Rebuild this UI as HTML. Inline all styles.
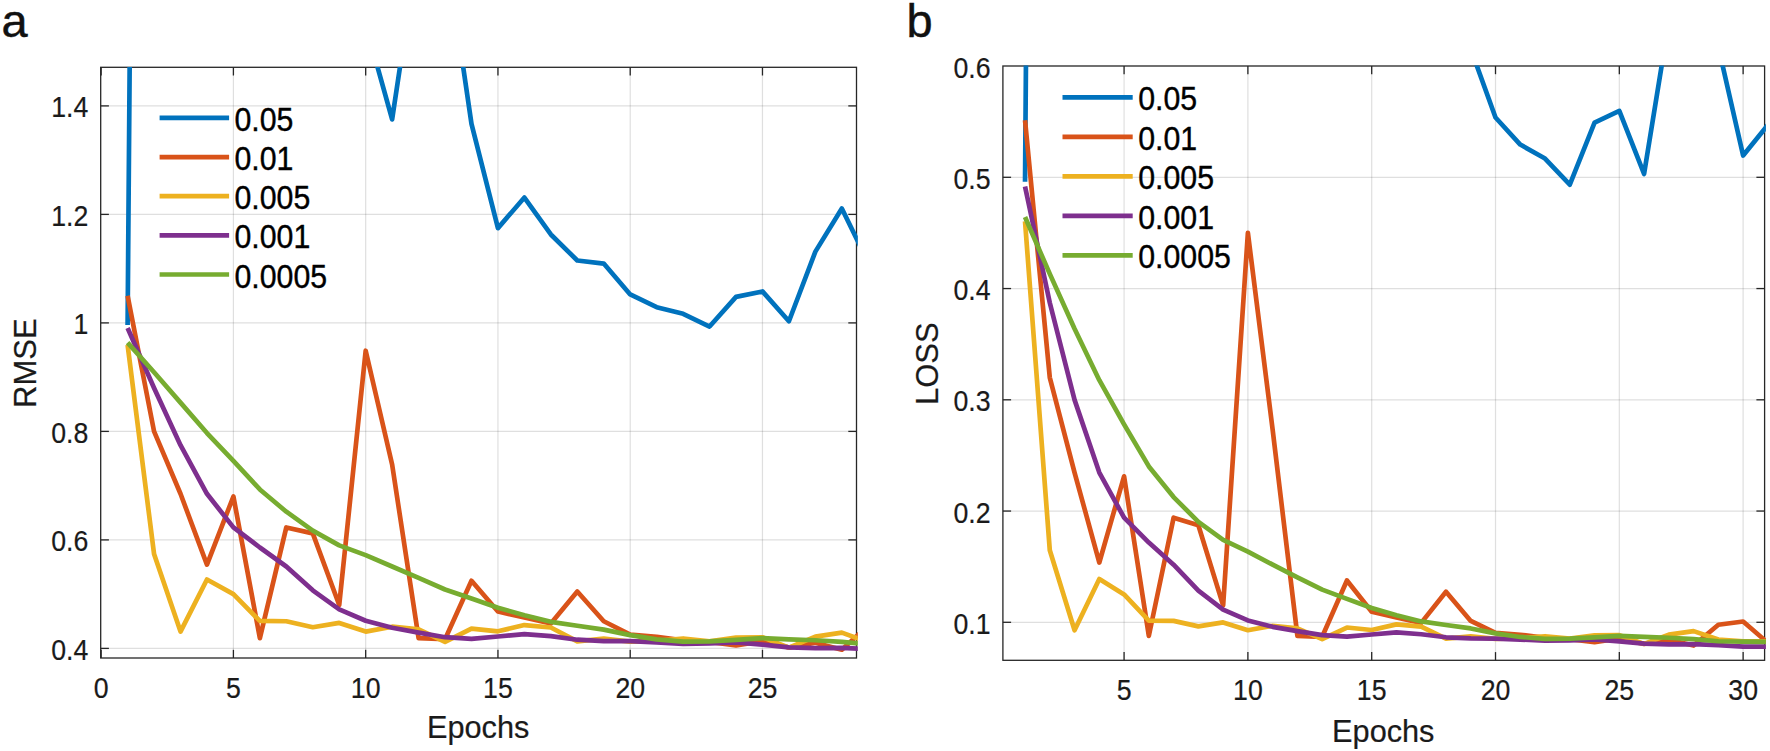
<!DOCTYPE html>
<html><head><meta charset="utf-8"><title>Figure</title>
<style>
html,body{margin:0;padding:0;background:#fff;}
body{width:1770px;height:751px;overflow:hidden;}
svg{display:block;}
svg text{font-family:"Liberation Sans",Arial,sans-serif;fill:#1a1a1a;stroke:#1a1a1a;stroke-width:0.2px;}
</style></head>
<body>
<svg width="1770" height="751" viewBox="0 0 1770 751">
<rect width="1770" height="751" fill="#ffffff"/>
<text x="1.5" y="36.6" font-size="47" style="fill:#111;stroke:#111;stroke-width:0.45px">a</text>
<text x="906.5" y="36.6" font-size="47" style="fill:#111;stroke:#111;stroke-width:0.45px">b</text>
<clipPath id="ca"><rect x="100.10000000000001" y="66.89999999999999" width="757.6999999999999" height="591.5"/></clipPath>
<line x1="233.41" y1="67.3" x2="233.41" y2="658.0" stroke="#262626" stroke-opacity="0.15" stroke-width="1.2"/>
<line x1="365.68" y1="67.3" x2="365.68" y2="658.0" stroke="#262626" stroke-opacity="0.15" stroke-width="1.2"/>
<line x1="497.95" y1="67.3" x2="497.95" y2="658.0" stroke="#262626" stroke-opacity="0.15" stroke-width="1.2"/>
<line x1="630.21" y1="67.3" x2="630.21" y2="658.0" stroke="#262626" stroke-opacity="0.15" stroke-width="1.2"/>
<line x1="762.47" y1="67.3" x2="762.47" y2="658.0" stroke="#262626" stroke-opacity="0.15" stroke-width="1.2"/>
<line x1="100.7" y1="648.40" x2="856.5" y2="648.40" stroke="#262626" stroke-opacity="0.15" stroke-width="1.2"/>
<line x1="100.7" y1="539.90" x2="856.5" y2="539.90" stroke="#262626" stroke-opacity="0.15" stroke-width="1.2"/>
<line x1="100.7" y1="431.40" x2="856.5" y2="431.40" stroke="#262626" stroke-opacity="0.15" stroke-width="1.2"/>
<line x1="100.7" y1="322.90" x2="856.5" y2="322.90" stroke="#262626" stroke-opacity="0.15" stroke-width="1.2"/>
<line x1="100.7" y1="214.40" x2="856.5" y2="214.40" stroke="#262626" stroke-opacity="0.15" stroke-width="1.2"/>
<line x1="100.7" y1="105.90" x2="856.5" y2="105.90" stroke="#262626" stroke-opacity="0.15" stroke-width="1.2"/>
<rect x="100.7" y="67.3" width="755.8" height="590.7" fill="none" stroke="#262626" stroke-width="1.3"/>
<line x1="101.15" y1="658.0" x2="101.15" y2="649.8" stroke="#262626" stroke-width="1.3"/>
<line x1="101.15" y1="67.3" x2="101.15" y2="75.5" stroke="#262626" stroke-width="1.3"/>
<text transform="translate(101.15,698.1) scale(1,1.09)" text-anchor="middle" font-size="26.7">0</text>
<line x1="233.41" y1="658.0" x2="233.41" y2="649.8" stroke="#262626" stroke-width="1.3"/>
<line x1="233.41" y1="67.3" x2="233.41" y2="75.5" stroke="#262626" stroke-width="1.3"/>
<text transform="translate(233.41,698.1) scale(1,1.09)" text-anchor="middle" font-size="26.7">5</text>
<line x1="365.68" y1="658.0" x2="365.68" y2="649.8" stroke="#262626" stroke-width="1.3"/>
<line x1="365.68" y1="67.3" x2="365.68" y2="75.5" stroke="#262626" stroke-width="1.3"/>
<text transform="translate(365.68,698.1) scale(1,1.09)" text-anchor="middle" font-size="26.7">10</text>
<line x1="497.95" y1="658.0" x2="497.95" y2="649.8" stroke="#262626" stroke-width="1.3"/>
<line x1="497.95" y1="67.3" x2="497.95" y2="75.5" stroke="#262626" stroke-width="1.3"/>
<text transform="translate(497.95,698.1) scale(1,1.09)" text-anchor="middle" font-size="26.7">15</text>
<line x1="630.21" y1="658.0" x2="630.21" y2="649.8" stroke="#262626" stroke-width="1.3"/>
<line x1="630.21" y1="67.3" x2="630.21" y2="75.5" stroke="#262626" stroke-width="1.3"/>
<text transform="translate(630.21,698.1) scale(1,1.09)" text-anchor="middle" font-size="26.7">20</text>
<line x1="762.47" y1="658.0" x2="762.47" y2="649.8" stroke="#262626" stroke-width="1.3"/>
<line x1="762.47" y1="67.3" x2="762.47" y2="75.5" stroke="#262626" stroke-width="1.3"/>
<text transform="translate(762.47,698.1) scale(1,1.09)" text-anchor="middle" font-size="26.7">25</text>
<line x1="100.7" y1="648.40" x2="108.9" y2="648.40" stroke="#262626" stroke-width="1.3"/>
<line x1="856.5" y1="648.40" x2="848.3" y2="648.40" stroke="#262626" stroke-width="1.3"/>
<text transform="translate(88.3,659.90) scale(1,1.09)" text-anchor="end" font-size="26.7">0.4</text>
<line x1="100.7" y1="539.90" x2="108.9" y2="539.90" stroke="#262626" stroke-width="1.3"/>
<line x1="856.5" y1="539.90" x2="848.3" y2="539.90" stroke="#262626" stroke-width="1.3"/>
<text transform="translate(88.3,551.40) scale(1,1.09)" text-anchor="end" font-size="26.7">0.6</text>
<line x1="100.7" y1="431.40" x2="108.9" y2="431.40" stroke="#262626" stroke-width="1.3"/>
<line x1="856.5" y1="431.40" x2="848.3" y2="431.40" stroke="#262626" stroke-width="1.3"/>
<text transform="translate(88.3,442.90) scale(1,1.09)" text-anchor="end" font-size="26.7">0.8</text>
<line x1="100.7" y1="322.90" x2="108.9" y2="322.90" stroke="#262626" stroke-width="1.3"/>
<line x1="856.5" y1="322.90" x2="848.3" y2="322.90" stroke="#262626" stroke-width="1.3"/>
<text transform="translate(88.3,334.40) scale(1,1.09)" text-anchor="end" font-size="26.7">1</text>
<line x1="100.7" y1="214.40" x2="108.9" y2="214.40" stroke="#262626" stroke-width="1.3"/>
<line x1="856.5" y1="214.40" x2="848.3" y2="214.40" stroke="#262626" stroke-width="1.3"/>
<text transform="translate(88.3,225.90) scale(1,1.09)" text-anchor="end" font-size="26.7">1.2</text>
<line x1="100.7" y1="105.90" x2="108.9" y2="105.90" stroke="#262626" stroke-width="1.3"/>
<line x1="856.5" y1="105.90" x2="848.3" y2="105.90" stroke="#262626" stroke-width="1.3"/>
<text transform="translate(88.3,117.40) scale(1,1.09)" text-anchor="end" font-size="26.7">1.4</text>
<g clip-path="url(#ca)" fill="none" stroke-width="4.7" stroke-linejoin="round" stroke-linecap="butt">
<polyline stroke="#0072BD" points="127.60,325.07 154.06,-3000.00 180.51,-1847.10 206.96,-1304.60 233.41,-762.10 259.87,-762.10 286.32,-762.10 312.77,-762.10 339.23,-490.85 365.68,24.52 392.13,119.46 418.59,-56.85 445.04,-56.85 471.49,123.80 497.95,228.13 524.40,197.58 550.85,234.47 577.30,260.51 603.76,263.55 630.21,294.47 656.66,307.17 683.12,313.84 709.57,326.53 736.02,296.86 762.47,291.43 788.93,321.27 815.38,251.62 841.83,208.43 868.29,262.68 894.74,312.38 921.19,297.89"/>
<polyline stroke="#D95319" points="127.60,295.77 154.06,431.40 180.51,493.79 206.96,564.58 233.41,496.50 259.87,638.09 286.32,527.42 312.77,533.39 339.23,605.00 365.68,350.73 392.13,464.49 418.59,638.09 445.04,639.18 471.49,580.80 497.95,611.51 524.40,617.48 550.85,623.44 577.30,591.44 603.76,621.27 630.21,634.62 656.66,636.74 683.12,640.26 709.57,641.89 736.02,645.52 762.47,641.08 788.93,647.59 815.38,642.65 841.83,649.65 868.29,625.45 894.74,621.93 921.19,646.39"/>
<polyline stroke="#EDB120" points="127.60,344.87 154.06,554.00 180.51,631.58 206.96,579.50 233.41,594.15 259.87,620.95 286.32,621.27 312.77,627.24 339.23,622.90 365.68,631.58 392.13,626.70 418.59,629.41 445.04,641.89 471.49,628.54 497.95,631.31 524.40,625.07 550.85,627.51 577.30,641.35 603.76,638.63 630.21,641.62 656.66,640.80 683.12,638.47 709.57,641.35 736.02,637.55 762.47,637.28 788.93,647.59 815.38,636.57 841.83,632.61 868.29,642.38 894.74,644.39 921.19,644.39"/>
<polyline stroke="#7E2F8E" points="127.60,328.05 154.06,388.00 180.51,445.23 206.96,493.79 233.41,527.42 259.87,547.50 286.32,566.48 312.77,590.35 339.23,609.34 365.68,620.73 392.13,627.78 418.59,632.67 445.04,637.22 471.49,638.91 497.95,636.47 524.40,634.08 550.85,636.19 577.30,639.72 603.76,641.08 630.21,641.18 656.66,642.43 683.12,643.84 709.57,643.35 736.02,642.32 762.47,644.60 788.93,647.31 815.38,648.13 841.83,647.86 868.29,649.21 894.74,650.84 921.19,650.84"/>
<polyline stroke="#77AC30" points="127.60,342.65 154.06,372.27 180.51,402.65 206.96,433.03 233.41,460.97 259.87,489.45 286.32,511.69 312.77,530.68 339.23,545.33 365.68,555.09 392.13,566.48 418.59,577.88 445.04,589.48 471.49,598.49 497.95,607.71 524.40,615.31 550.85,621.82 577.30,625.78 603.76,629.58 630.21,635.16 656.66,639.34 683.12,641.67 709.57,641.35 736.02,639.94 762.47,638.09 788.93,639.29 815.38,640.26 841.83,641.89 868.29,644.39 894.74,644.77 921.19,645.31"/>
</g>
<text x="478.2" y="737.9" text-anchor="middle" font-size="30.7">Epochs</text>
<text transform="translate(36.3,363.15) rotate(-90)" text-anchor="middle" font-size="31">RMSE</text>
<line x1="159.6" y1="117.90" x2="229.1" y2="117.90" stroke="#0072BD" stroke-width="4.7"/>
<text transform="translate(234.5,131.00) scale(1,1.11)" font-size="30.3" style="fill:#000;stroke:#000;stroke-width:0.35px">0.05</text>
<line x1="159.6" y1="157.05" x2="229.1" y2="157.05" stroke="#D95319" stroke-width="4.7"/>
<text transform="translate(234.5,170.15) scale(1,1.11)" font-size="30.3" style="fill:#000;stroke:#000;stroke-width:0.35px">0.01</text>
<line x1="159.6" y1="196.20" x2="229.1" y2="196.20" stroke="#EDB120" stroke-width="4.7"/>
<text transform="translate(234.5,209.30) scale(1,1.11)" font-size="30.3" style="fill:#000;stroke:#000;stroke-width:0.35px">0.005</text>
<line x1="159.6" y1="235.35" x2="229.1" y2="235.35" stroke="#7E2F8E" stroke-width="4.7"/>
<text transform="translate(234.5,248.45) scale(1,1.11)" font-size="30.3" style="fill:#000;stroke:#000;stroke-width:0.35px">0.001</text>
<line x1="159.6" y1="274.50" x2="229.1" y2="274.50" stroke="#77AC30" stroke-width="4.7"/>
<text transform="translate(234.5,287.60) scale(1,1.11)" font-size="30.3" style="fill:#000;stroke:#000;stroke-width:0.35px">0.0005</text>
<clipPath id="cb"><rect x="1002.3" y="65.6" width="763.5999999999999" height="595.0999999999999"/></clipPath>
<line x1="1124.08" y1="66.0" x2="1124.08" y2="660.3" stroke="#262626" stroke-opacity="0.15" stroke-width="1.2"/>
<line x1="1247.89" y1="66.0" x2="1247.89" y2="660.3" stroke="#262626" stroke-opacity="0.15" stroke-width="1.2"/>
<line x1="1371.70" y1="66.0" x2="1371.70" y2="660.3" stroke="#262626" stroke-opacity="0.15" stroke-width="1.2"/>
<line x1="1495.51" y1="66.0" x2="1495.51" y2="660.3" stroke="#262626" stroke-opacity="0.15" stroke-width="1.2"/>
<line x1="1619.32" y1="66.0" x2="1619.32" y2="660.3" stroke="#262626" stroke-opacity="0.15" stroke-width="1.2"/>
<line x1="1743.13" y1="66.0" x2="1743.13" y2="660.3" stroke="#262626" stroke-opacity="0.15" stroke-width="1.2"/>
<line x1="1002.9" y1="622.30" x2="1764.6" y2="622.30" stroke="#262626" stroke-opacity="0.15" stroke-width="1.2"/>
<line x1="1002.9" y1="511.05" x2="1764.6" y2="511.05" stroke="#262626" stroke-opacity="0.15" stroke-width="1.2"/>
<line x1="1002.9" y1="399.80" x2="1764.6" y2="399.80" stroke="#262626" stroke-opacity="0.15" stroke-width="1.2"/>
<line x1="1002.9" y1="288.55" x2="1764.6" y2="288.55" stroke="#262626" stroke-opacity="0.15" stroke-width="1.2"/>
<line x1="1002.9" y1="177.30" x2="1764.6" y2="177.30" stroke="#262626" stroke-opacity="0.15" stroke-width="1.2"/>
<rect x="1002.9" y="66.0" width="761.6999999999999" height="594.3" fill="none" stroke="#262626" stroke-width="1.3"/>
<line x1="1124.08" y1="660.3" x2="1124.08" y2="652.0999999999999" stroke="#262626" stroke-width="1.3"/>
<line x1="1124.08" y1="66.0" x2="1124.08" y2="74.2" stroke="#262626" stroke-width="1.3"/>
<text transform="translate(1124.08,700.4) scale(1,1.09)" text-anchor="middle" font-size="26.7">5</text>
<line x1="1247.89" y1="660.3" x2="1247.89" y2="652.0999999999999" stroke="#262626" stroke-width="1.3"/>
<line x1="1247.89" y1="66.0" x2="1247.89" y2="74.2" stroke="#262626" stroke-width="1.3"/>
<text transform="translate(1247.89,700.4) scale(1,1.09)" text-anchor="middle" font-size="26.7">10</text>
<line x1="1371.70" y1="660.3" x2="1371.70" y2="652.0999999999999" stroke="#262626" stroke-width="1.3"/>
<line x1="1371.70" y1="66.0" x2="1371.70" y2="74.2" stroke="#262626" stroke-width="1.3"/>
<text transform="translate(1371.70,700.4) scale(1,1.09)" text-anchor="middle" font-size="26.7">15</text>
<line x1="1495.51" y1="660.3" x2="1495.51" y2="652.0999999999999" stroke="#262626" stroke-width="1.3"/>
<line x1="1495.51" y1="66.0" x2="1495.51" y2="74.2" stroke="#262626" stroke-width="1.3"/>
<text transform="translate(1495.51,700.4) scale(1,1.09)" text-anchor="middle" font-size="26.7">20</text>
<line x1="1619.32" y1="660.3" x2="1619.32" y2="652.0999999999999" stroke="#262626" stroke-width="1.3"/>
<line x1="1619.32" y1="66.0" x2="1619.32" y2="74.2" stroke="#262626" stroke-width="1.3"/>
<text transform="translate(1619.32,700.4) scale(1,1.09)" text-anchor="middle" font-size="26.7">25</text>
<line x1="1743.13" y1="660.3" x2="1743.13" y2="652.0999999999999" stroke="#262626" stroke-width="1.3"/>
<line x1="1743.13" y1="66.0" x2="1743.13" y2="74.2" stroke="#262626" stroke-width="1.3"/>
<text transform="translate(1743.13,700.4) scale(1,1.09)" text-anchor="middle" font-size="26.7">30</text>
<line x1="1002.9" y1="622.30" x2="1011.1" y2="622.30" stroke="#262626" stroke-width="1.3"/>
<line x1="1764.6" y1="622.30" x2="1756.3999999999999" y2="622.30" stroke="#262626" stroke-width="1.3"/>
<text transform="translate(990.5,633.80) scale(1,1.09)" text-anchor="end" font-size="26.7">0.1</text>
<line x1="1002.9" y1="511.05" x2="1011.1" y2="511.05" stroke="#262626" stroke-width="1.3"/>
<line x1="1764.6" y1="511.05" x2="1756.3999999999999" y2="511.05" stroke="#262626" stroke-width="1.3"/>
<text transform="translate(990.5,522.55) scale(1,1.09)" text-anchor="end" font-size="26.7">0.2</text>
<line x1="1002.9" y1="399.80" x2="1011.1" y2="399.80" stroke="#262626" stroke-width="1.3"/>
<line x1="1764.6" y1="399.80" x2="1756.3999999999999" y2="399.80" stroke="#262626" stroke-width="1.3"/>
<text transform="translate(990.5,411.30) scale(1,1.09)" text-anchor="end" font-size="26.7">0.3</text>
<line x1="1002.9" y1="288.55" x2="1011.1" y2="288.55" stroke="#262626" stroke-width="1.3"/>
<line x1="1764.6" y1="288.55" x2="1756.3999999999999" y2="288.55" stroke="#262626" stroke-width="1.3"/>
<text transform="translate(990.5,300.05) scale(1,1.09)" text-anchor="end" font-size="26.7">0.4</text>
<line x1="1002.9" y1="177.30" x2="1011.1" y2="177.30" stroke="#262626" stroke-width="1.3"/>
<line x1="1764.6" y1="177.30" x2="1756.3999999999999" y2="177.30" stroke="#262626" stroke-width="1.3"/>
<text transform="translate(990.5,188.80) scale(1,1.09)" text-anchor="end" font-size="26.7">0.5</text>
<text transform="translate(990.5,77.55) scale(1,1.09)" text-anchor="end" font-size="26.7">0.6</text>
<g clip-path="url(#cb)" fill="none" stroke-width="4.7" stroke-linejoin="round" stroke-linecap="butt">
<polyline stroke="#0072BD" points="1025.03,181.74 1049.79,-3000.00 1074.56,-3000.00 1099.32,-3000.00 1124.08,-3000.00 1148.84,-3000.00 1173.60,-3000.00 1198.37,-3000.00 1223.13,-2743.01 1247.89,-602.84 1272.65,-318.11 1297.41,-874.01 1322.18,-874.01 1346.94,-305.91 1371.70,-34.03 1396.46,-109.37 1421.22,-18.82 1445.99,42.01 1470.75,48.94 1495.51,117.48 1520.27,144.57 1545.03,158.57 1569.80,184.73 1594.56,122.62 1619.32,110.90 1644.08,173.96 1668.84,21.51 1693.61,-82.20 1718.37,46.96 1743.13,155.51 1767.89,124.83"/>
<polyline stroke="#D95319" points="1025.03,120.28 1049.79,377.55 1074.56,472.54 1099.32,562.52 1124.08,476.34 1148.84,635.89 1173.60,517.65 1198.37,525.21 1223.13,605.39 1247.89,232.91 1272.65,429.77 1297.41,635.89 1322.18,636.82 1346.94,580.47 1371.70,611.72 1396.46,617.38 1421.22,622.90 1445.99,591.69 1470.75,620.91 1495.51,632.89 1520.27,634.73 1545.03,637.75 1569.80,639.13 1594.56,642.18 1619.32,638.44 1644.08,643.88 1668.84,639.77 1693.61,645.57 1718.37,624.73 1743.13,621.51 1767.89,642.90"/>
<polyline stroke="#EDB120" points="1025.03,221.44 1049.79,550.28 1074.56,630.22 1099.32,579.06 1124.08,594.49 1148.84,620.61 1173.60,620.91 1198.37,626.35 1223.13,622.41 1247.89,630.22 1272.65,625.86 1297.41,628.29 1322.18,639.13 1346.94,627.52 1371.70,629.98 1396.46,624.39 1421.22,626.59 1445.99,638.67 1470.75,636.36 1495.51,638.90 1520.27,638.21 1545.03,636.22 1569.80,638.67 1594.56,635.43 1619.32,635.19 1644.08,643.88 1668.84,634.58 1693.61,631.13 1718.37,639.54 1743.13,641.23 1767.89,641.23"/>
<polyline stroke="#7E2F8E" points="1025.03,186.42 1049.79,302.79 1074.56,399.88 1099.32,472.54 1124.08,517.65 1148.84,542.54 1173.60,564.67 1198.37,590.57 1223.13,609.63 1247.89,620.41 1272.65,626.84 1297.41,631.18 1322.18,635.15 1346.94,636.59 1371.70,634.49 1396.46,632.41 1421.22,634.26 1445.99,637.29 1470.75,638.44 1495.51,638.53 1520.27,639.59 1545.03,640.77 1569.80,640.36 1594.56,639.50 1619.32,641.41 1644.08,643.66 1668.84,644.33 1693.61,644.10 1718.37,645.22 1743.13,646.54 1767.89,646.54"/>
<polyline stroke="#77AC30" points="1025.03,217.06 1049.79,273.93 1074.56,328.82 1099.32,380.21 1124.08,424.40 1148.84,466.41 1173.60,497.09 1198.37,521.79 1223.13,539.92 1247.89,551.55 1272.65,564.67 1297.41,577.30 1322.18,589.66 1346.94,598.90 1371.70,608.05 1396.46,615.34 1421.22,621.41 1445.99,625.03 1470.75,628.44 1495.51,633.36 1520.27,636.96 1545.03,638.95 1569.80,638.67 1594.56,637.47 1619.32,635.89 1644.08,636.92 1668.84,637.75 1693.61,639.13 1718.37,641.23 1743.13,641.54 1767.89,642.00"/>
</g>
<text x="1383.3" y="741.5999999999999" text-anchor="middle" font-size="30.7">Epochs</text>
<text transform="translate(938.4,363.65) rotate(-90)" text-anchor="middle" font-size="31">LOSS</text>
<line x1="1062.5" y1="97.30" x2="1132.7" y2="97.30" stroke="#0072BD" stroke-width="4.7"/>
<text transform="translate(1138.2,110.40) scale(1,1.11)" font-size="30.3" style="fill:#000;stroke:#000;stroke-width:0.35px">0.05</text>
<line x1="1062.5" y1="136.80" x2="1132.7" y2="136.80" stroke="#D95319" stroke-width="4.7"/>
<text transform="translate(1138.2,149.90) scale(1,1.11)" font-size="30.3" style="fill:#000;stroke:#000;stroke-width:0.35px">0.01</text>
<line x1="1062.5" y1="176.30" x2="1132.7" y2="176.30" stroke="#EDB120" stroke-width="4.7"/>
<text transform="translate(1138.2,189.40) scale(1,1.11)" font-size="30.3" style="fill:#000;stroke:#000;stroke-width:0.35px">0.005</text>
<line x1="1062.5" y1="215.80" x2="1132.7" y2="215.80" stroke="#7E2F8E" stroke-width="4.7"/>
<text transform="translate(1138.2,228.90) scale(1,1.11)" font-size="30.3" style="fill:#000;stroke:#000;stroke-width:0.35px">0.001</text>
<line x1="1062.5" y1="255.30" x2="1132.7" y2="255.30" stroke="#77AC30" stroke-width="4.7"/>
<text transform="translate(1138.2,268.40) scale(1,1.11)" font-size="30.3" style="fill:#000;stroke:#000;stroke-width:0.35px">0.0005</text>
</svg>
</body></html>
